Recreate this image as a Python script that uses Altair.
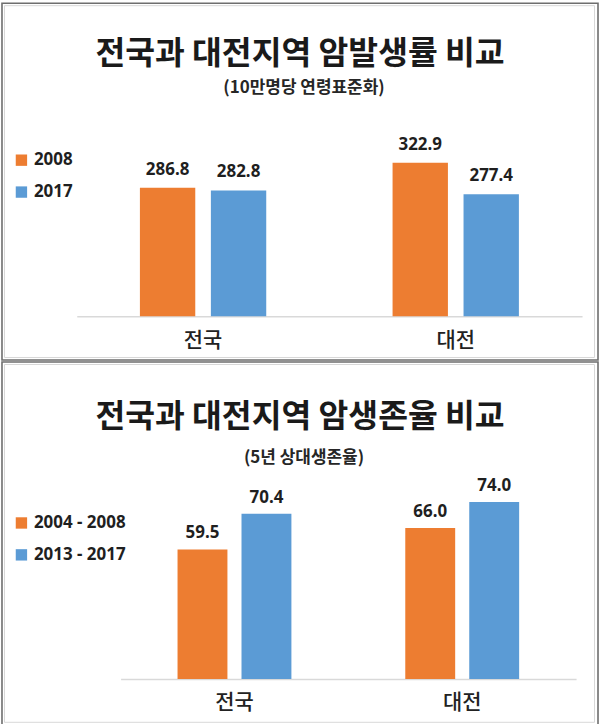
import altair as alt
import pandas as pd

# ---- data ----
regions = ["전국", "대전"]

inc_title = "전국과 대전지역 암발생률 비교"
inc_subtitle = "(10만명당 연령표준화)"
inc_series = ["2008", "2017"]
inc_2008 = [286.8, 322.9]
inc_2017 = [282.8, 277.4]

sur_title = "전국과 대전지역 암생존율 비교"
sur_subtitle = "(5년 상대생존율)"
sur_series = ["2004 - 2008", "2013 - 2017"]
sur_0408 = [59.5, 66.0]
sur_1317 = [70.4, 74.0]

colors = ["#ED7D31", "#5B9BD5"]
KR = "Noto Sans CJK KR"
NUM = "Noto Sans"
W = 598


def panel(title, subtitle, series, vals_a, vals_b, h, ydom, yrange, xrange,
          title_y, sub_y, leg_y, label_dy):
    rows = []
    for r, a, b in zip(regions, vals_a, vals_b):
        rows.append({"region": r, "series": series[0], "value": a})
        rows.append({"region": r, "series": series[1], "value": b})
    df = pd.DataFrame(rows)

    x = alt.X("region:N", sort=regions, title=None,
              scale=alt.Scale(domain=regions, range=xrange,
                              paddingInner=0.5, paddingOuter=0.25),
              axis=alt.Axis(orient="bottom", offset=-(h - yrange[0]),
                            domainColor="#D9D9D9", domainWidth=1.5,
                            ticks=False, tickSize=0, labelAngle=0,
                            labelFont=KR, labelFontSize=21,
                            labelFontWeight=500,
                            labelColor="#222222", labelPadding=13,
                            labelBaseline="top", grid=False))
    xo = alt.XOffset("series:N", sort=series,
                     scale=alt.Scale(paddingInner=0.22, paddingOuter=0))
    y = alt.Y("value:Q", axis=None,
              scale=alt.Scale(domain=ydom, range=yrange, zero=False,
                              nice=False, clamp=True))

    bars = alt.Chart(df).mark_bar().encode(
        x=x, xOffset=xo, y=y, y2=alt.datum(ydom[0]),
        color=alt.Color("series:N", sort=series,
                        scale=alt.Scale(domain=series, range=colors),
                        legend=alt.Legend(orient="none", legendX=11,
                                          legendY=leg_y, title=None,
                                          symbolType="square",
                                          symbolSize=130,
                                          symbolStrokeWidth=0,
                                          labelFont=NUM, labelFontSize=17,
                                          labelFontWeight="bold",
                                          labelColor="#1F1F1F",
                                          labelOffset=4, rowPadding=14)),
    )
    labels = alt.Chart(df).mark_text(
        font=NUM, fontSize=17, fontWeight="bold", color="#1F1F1F",
        baseline="alphabetic", dy=label_dy,
    ).encode(x=x, xOffset=xo, y=y, text=alt.Text("value:Q", format=".1f"))

    tdf = pd.DataFrame({"t": [title]})
    tmark = alt.Chart(tdf).mark_text(
        font=KR, fontSize=32.5, fontWeight="bold", color="#1A1A1A",
        baseline="middle", align="center",
    ).encode(text="t:N", x=alt.value(W / 2), y=alt.value(title_y))
    sdf = pd.DataFrame({"t": [subtitle]})
    smark = alt.Chart(sdf).mark_text(
        font=KR, fontSize=17, fontWeight="bold", color="#262626",
        baseline="middle", align="center",
    ).encode(text="t:N", x=alt.value(W / 2 + 4), y=alt.value(sub_y))

    frame = alt.Chart(pd.DataFrame({"a": [0]})).mark_rect(
        filled=False, stroke="#D8D8D8", strokeWidth=1,
    ).encode(x=alt.value(2.5), x2=alt.value(W - 3.5),
             y=alt.value(2.5), y2=alt.value(h - 2.5))

    return alt.layer(frame, bars, labels, tmark, smark).properties(
        width=W, height=h)


p1 = panel(inc_title, inc_subtitle, inc_series, inc_2008, inc_2017,
           h=358, ydom=[100, 350], yrange=[314, 141.5], xrange=[75, 582],
           title_y=51, sub_y=85, leg_y=149, label_dy=-13)
p2 = panel(sur_title, sur_subtitle, sur_series, sur_0408, sur_1317,
           h=364, ydom=[20, 80], yrange=[318, 120.6], xrange=[119, 576],
           title_y=55, sub_y=96, leg_y=153, label_dy=-11)

chart = alt.vconcat(p1, p2, spacing=0).resolve_scale(
    x="independent", y="independent", color="independent",
    xOffset="independent",
).resolve_legend(color="independent").properties(
    padding={"left": 1, "top": 1, "right": 1, "bottom": 1},
    background="white",
).configure_view(stroke="#6E6E6E", strokeWidth=1.6).configure_concat(spacing=0)

chart.save("out.html", embed_options={"renderer": "svg", "actions": False})
